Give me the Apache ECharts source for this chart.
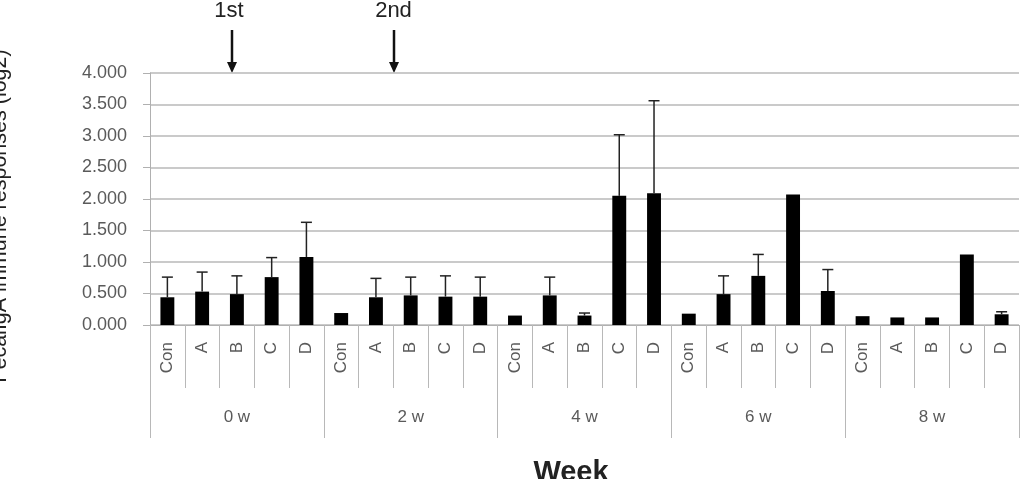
<!DOCTYPE html>
<html>
<head>
<meta charset="utf-8">
<script src="https://cdn.jsdelivr.net/npm/echarts@6/dist/echarts.min.js"></script>
<style>html,body{margin:0;padding:0;background:#fff}#chart{width:1022px;height:479px}</style>
</head>
<body>
<div id="chart"></div>
<script>
var weeks = ['0 w', '2 w', '4 w', '6 w', '8 w'];
var groups = ['Con', 'A', 'B', 'C', 'D'];
var yTicks = [0, 0.5, 1, 1.5, 2, 2.5, 3, 3.5, 4];

var mean0w = [0.44, 0.53, 0.49, 0.76, 1.08];
var mean2w = [0.19, 0.44, 0.47, 0.45, 0.45];
var mean4w = [0.15, 0.47, 0.15, 2.05, 2.09];
var mean6w = [0.18, 0.49, 0.78, 2.07, 0.54];
var mean8w = [0.14, 0.12, 0.12, 1.12, 0.17];

var sd0w = [0.32, 0.31, 0.29, 0.31, 0.55];
var sd2w = [0, 0.30, 0.29, 0.33, 0.31];
var sd4w = [0, 0.29, 0.04, 0.97, 1.47];
var sd6w = [0, 0.29, 0.34, 0, 0.34];
var sd8w = [0, 0, 0, 0, 0.04];

var means = [].concat(mean0w, mean2w, mean4w, mean6w, mean8w);
var sds = [].concat(sd0w, sd2w, sd4w, sd6w, sd8w);
var cats = [];
weeks.forEach(function () { groups.forEach(function (g) { cats.push(g); }); });

var font = 'Liberation Sans, Arial, sans-serif';
var chart = echarts.init(document.getElementById('chart'), null, {renderer: 'canvas'});

var errData = means.map(function (m, i) { return [i, m, sds[i]]; });

chart.setOption({
  animation: false,
  grid: {left: 150, right: 3, top: 73, bottom: 154, containLabel: false},
  xAxis: [{
    type: 'category',
    data: cats,
    position: 'bottom',
    offset: 0,
    axisLine: {show: true, lineStyle: {color: '#b0b0b0', width: 1}},
    axisTick: {show: true, interval: 0, length: 63, lineStyle: {color: '#b8b8b8', width: 1}},
    axisLabel: {interval: 0, rotate: 90, margin: 17, fontSize: 17, color: '#5a5a5a', fontFamily: font},
    splitLine: {show: false}
  }, {
    type: 'category',
    data: weeks,
    position: 'bottom',
    offset: 0,
    axisLine: {show: false},
    axisTick: {show: true, interval: 0, length: 113, lineStyle: {color: '#b8b8b8', width: 1}},
    axisLabel: {interval: 0, margin: 84, fontSize: 17, color: '#5a5a5a', fontFamily: font},
    splitLine: {show: false}
  }],
  yAxis: {
    type: 'value',
    min: yTicks[0],
    max: yTicks[yTicks.length - 1],
    interval: 0.5,
    axisLine: {show: true, lineStyle: {color: '#b0b0b0'}},
    axisTick: {show: true, length: 7, lineStyle: {color: '#b0b0b0'}},
    axisLabel: {margin: 23, fontSize: 18, color: '#5a5a5a', fontFamily: font,
      formatter: function (v) { return v.toFixed(3); }},
    splitLine: {show: true, lineStyle: {color: '#b8b8b8', width: 1.5}}
  },
  series: [{
    type: 'bar',
    data: means,
    xAxisIndex: 0,
    barWidth: '40%',
    itemStyle: {color: '#000'}
  }, {
    type: 'custom',
    xAxisIndex: 0,
    data: errData,
    z: 5,
    renderItem: function (params, api) {
      var sd = api.value(2);
      if (!sd) return null;
      var base = api.coord([api.value(0), api.value(1)]);
      var top = api.coord([api.value(0), api.value(1) + sd]);
      var hw = 5.5;
      var st = {stroke: '#222', lineWidth: 1.5};
      return {type: 'group', children: [
        {type: 'line', shape: {x1: base[0], y1: base[1], x2: top[0], y2: top[1]}, style: st},
        {type: 'line', shape: {x1: top[0] - hw, y1: top[1], x2: top[0] + hw, y2: top[1]}, style: st}
      ]};
    }
  }],
  graphic: [
    {type: 'text', x: 0, y: 216, rotation: Math.PI / 2,
      style: {text: 'FecalIgA immune responses (log2)', font: '21.5px ' + font, fill: '#222', textAlign: 'center', textVerticalAlign: 'middle'}},
    {type: 'text', x: 571, y: 458,
      style: {text: 'Week', font: 'bold 29px ' + font, fill: '#222', textAlign: 'center', textVerticalAlign: 'top'}},
    {type: 'text', x: 229, y: 0,
      style: {text: '1st', font: '22px ' + font, fill: '#222', textAlign: 'center', textVerticalAlign: 'top'}},
    {type: 'line', shape: {x1: 232, y1: 30, x2: 232, y2: 64}, style: {stroke: '#111', lineWidth: 2.5}},
    {type: 'polygon', shape: {points: [[227, 62], [237, 62], [232, 73]]}, style: {fill: '#111'}},
    {type: 'text', x: 393.5, y: 0,
      style: {text: '2nd', font: '22px ' + font, fill: '#222', textAlign: 'center', textVerticalAlign: 'top'}},
    {type: 'line', shape: {x1: 394, y1: 30, x2: 394, y2: 64}, style: {stroke: '#111', lineWidth: 2.5}},
    {type: 'polygon', shape: {points: [[389, 62], [399, 62], [394, 73]]}, style: {fill: '#111'}}
  ]
});
</script>
</body>
</html>
